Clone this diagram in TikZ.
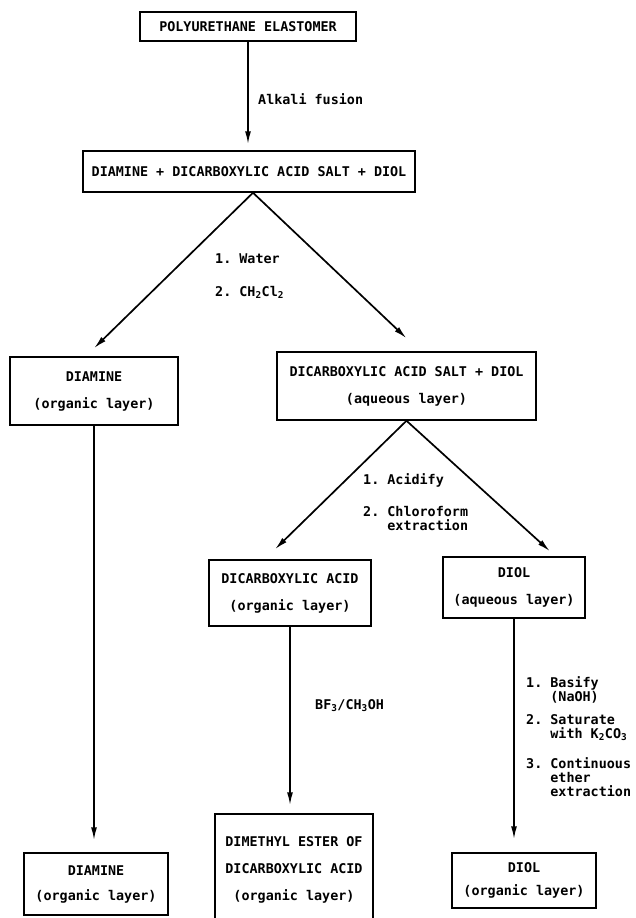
\documentclass[tikz,border=0pt]{standalone}
\usepackage{fontspec}
\setmonofont{DejaVu Sans Mono}
\usetikzlibrary{arrows.meta}

\tikzset{
  stage/.style={draw, line width=1.5pt, font=\ttfamily\bfseries\fontsize{13.4}{15}\selectfont,
    align=center, inner sep=0pt},
  reagent/.style={anchor=west, font=\ttfamily\bfseries\fontsize{13.4}{14}\selectfont,
    align=left, inner sep=0pt},
  flow/.style={line width=1.7pt, -{Latex[length=13pt,width=6pt]}},
}

\begin{document}
\begin{tikzpicture}[x=1pt,y=-1pt]
  \useasboundingbox (0,0) rectangle (636,918);

  % boxes
  \node[stage, minimum width=216pt, minimum height=29pt] (poly) at (248,26.5) {POLYURETHANE ELASTOMER};
  \node[stage, minimum width=332pt, minimum height=41pt] (mix) at (249,171.5) {DIAMINE + DICARBOXYLIC ACID SALT + DIOL};

  \node[stage, minimum width=168pt, minimum height=68pt] (amineorg) at (94,391) {DIAMINE\\[12pt](organic layer)};
  \node[stage, minimum width=259pt, minimum height=68pt] (saltdiol) at (406.5,386) {DICARBOXYLIC ACID SALT + DIOL\\[12pt](aqueous layer)};

  \node[stage, minimum width=162pt, minimum height=66pt] (acidorg) at (290,593) {DICARBOXYLIC ACID\\[12pt](organic layer)};
  \node[stage, minimum width=142pt, minimum height=61pt] (diolaq) at (514,587.5) {DIOL\\[12pt](aqueous layer)};

  \node[stage, minimum width=144pt, minimum height=62pt] (amineend) at (96,884) {DIAMINE\\[10pt](organic layer)};
  \node[stage, minimum width=158pt, minimum height=111pt] (ester) at (294,869.5) {DIMETHYL ESTER OF\\[12pt]DICARBOXYLIC ACID\\[12pt](organic layer)};
  \node[stage, minimum width=144pt, minimum height=55pt] (diolend) at (524,880.5) {DIOL\\[8pt](organic layer)};

  % reagents
  \node[reagent] (fusion) at (258,99) {Alkali fusion};
  \node[reagent] (water) at (215,259) {1. Water};
  \node[reagent] (dcm) at (215,292) {2. CH\textsubscript{2}Cl\textsubscript{2}};
  \node[reagent] (acidify) at (363,480) {1. Acidify};
  \node[reagent] (chloro) at (363,518) {2. Chloroform\\\phantom{2. }extraction};
  \node[reagent] (bf) at (315,706) {BF\textsubscript{3}/CH\textsubscript{3}OH};
  \node[reagent] (basify) at (526,690) {1. Basify\\\phantom{1. }(NaOH)};
  \node[reagent] (saturate) at (526,728) {2. Saturate\\\phantom{2. }with K\textsubscript{2}CO\textsubscript{3}};
  \node[reagent] (ether) at (526,777) {3. Continuous\\\phantom{3. }ether\\\phantom{3. }extraction};

  % arrows
  \draw[flow] (poly.south) -- ([yshift=6pt]poly.south |- mix.north);
  \draw[flow] ([xshift=4pt]mix.south) -- ([yshift=8pt]amineorg.north);
  \draw[flow] ([xshift=4pt]mix.south) -- ([yshift=13pt]saltdiol.north);
  \draw[flow] (saltdiol.south) -- ([xshift=-15pt,yshift=10pt]acidorg.north);
  \draw[flow] (saltdiol.south) -- ([xshift=36pt,yshift=5pt]diolaq.north);
  \draw[flow] (amineorg.south) -- ([yshift=12pt]amineorg.south |- amineend.north);
  \draw[flow] (acidorg.south) -- ([yshift=8pt]acidorg.south |- ester.north);
  \draw[flow] (diolaq.south) -- ([yshift=13pt]diolaq.south |- diolend.north);
\end{tikzpicture}
\end{document}
